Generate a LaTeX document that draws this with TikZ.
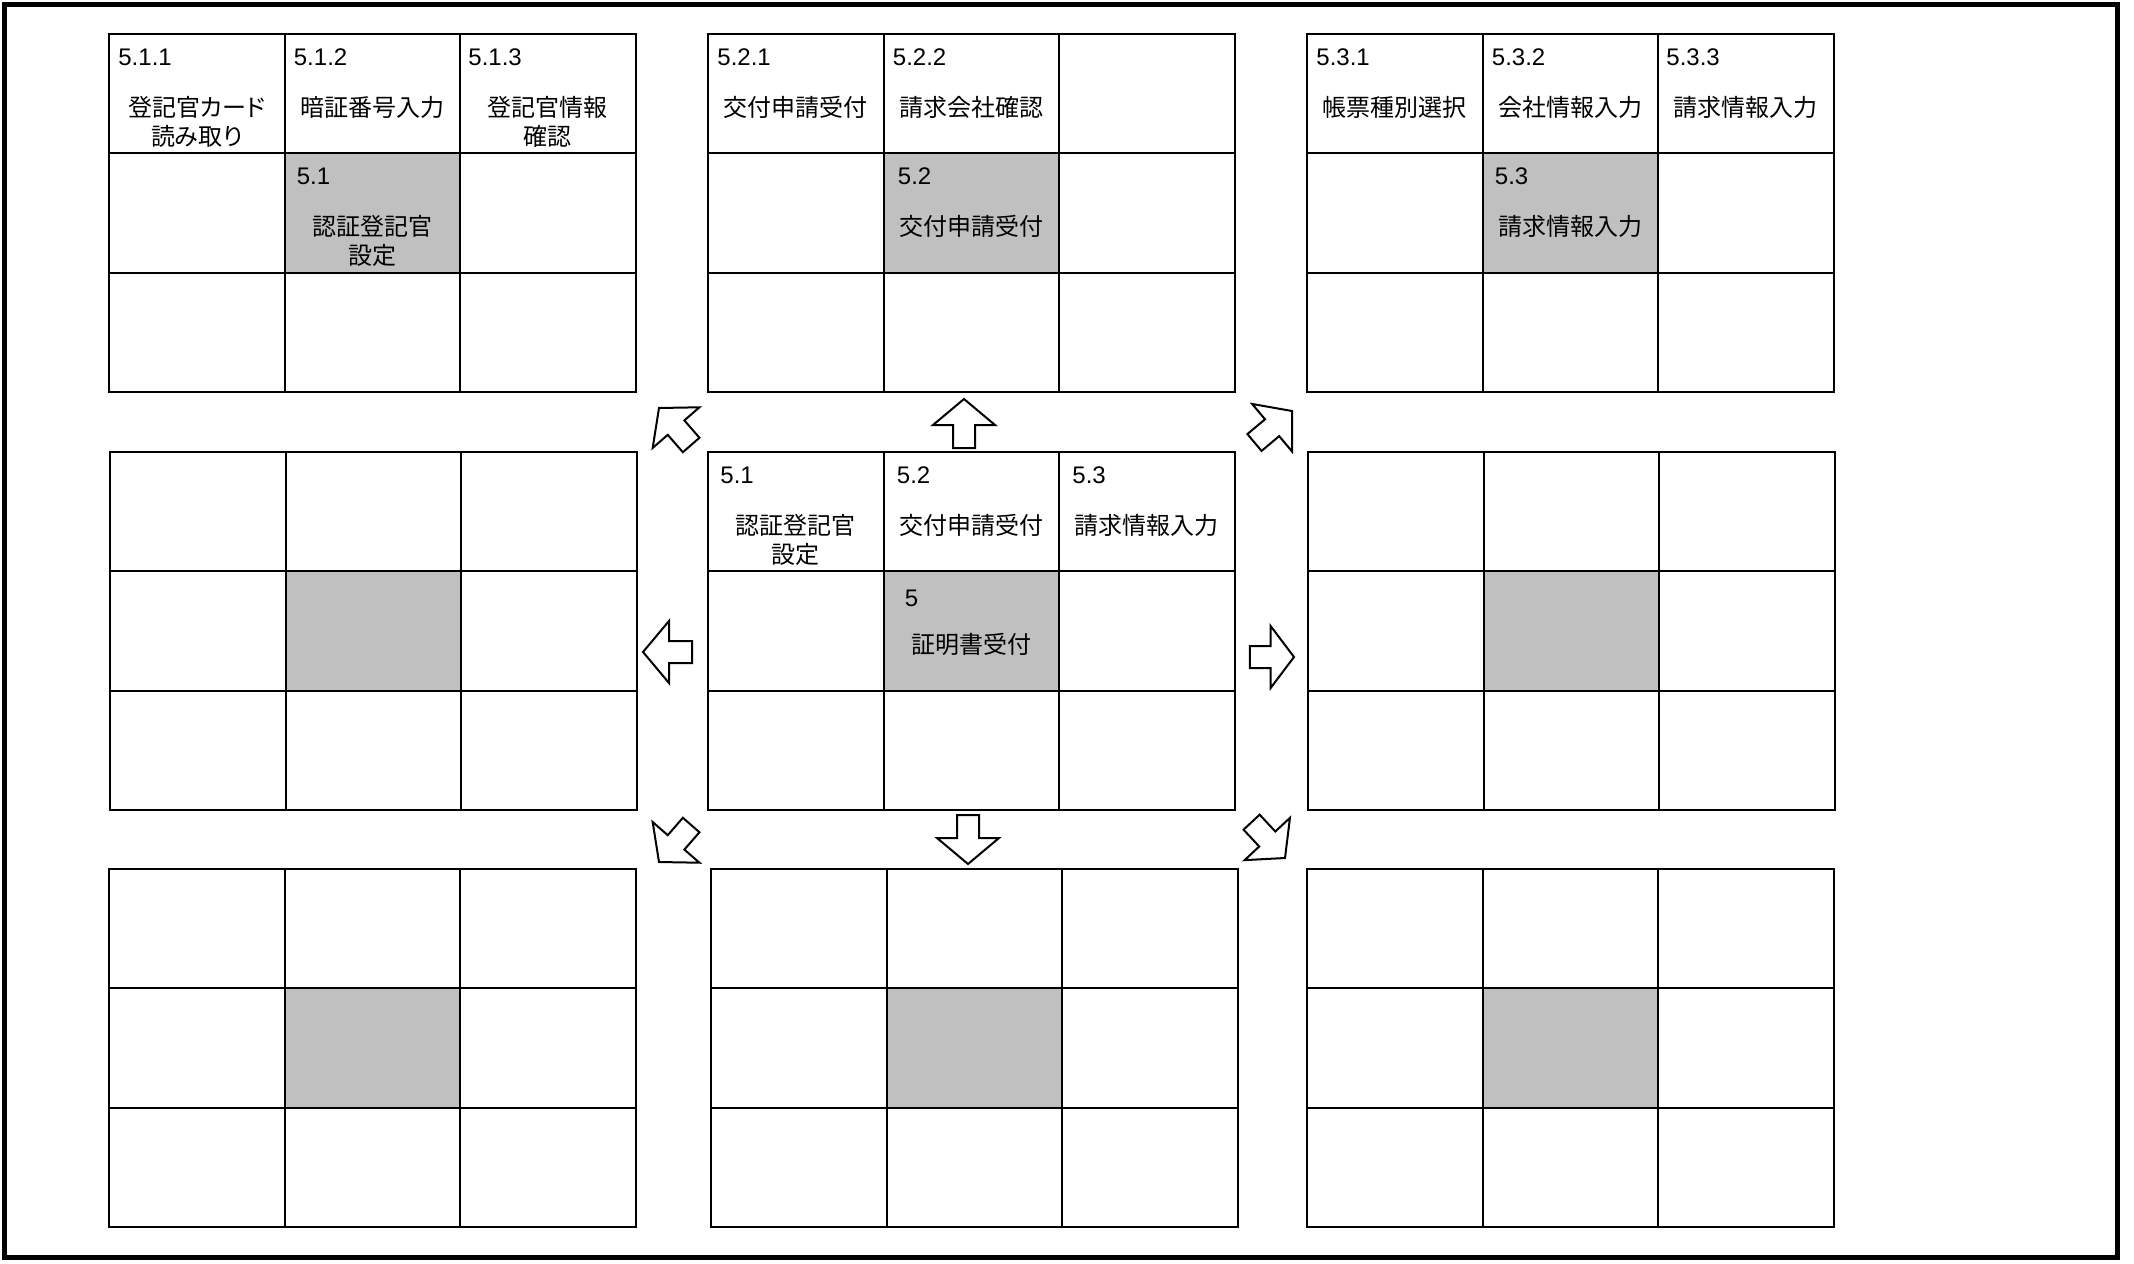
\documentclass[tikz,border=0pt]{standalone}
\usepackage{fontspec}
\setmainfont{Liberation Sans}
\newfontfamily\jp{Noto Sans CJK JP}
\newfontfamily\jpp[RawFeature=+palt]{Noto Sans CJK JP}
\definecolor{cellgray}{RGB}{192,192,192}
\tikzset{
  cellbox/.style={draw=black, line width=1pt, minimum width=87.75pt, minimum height=59.67pt,
    inner sep=0pt, outer sep=0pt, anchor=north west},
  numtxt/.style={font=\fontsize{12}{14}\selectfont, anchor=west, inner sep=0pt},
  lbltxt/.style={font=\jp\fontsize{12}{14.5}\selectfont, align=center, anchor=north, inner sep=0pt},
  blockarrow/.style={draw=black, fill=white, line width=1pt, line join=miter},
  frame/.style={draw=black, line width=2.5pt}
}
% #1 name, #2 x, #3 y (pixels, top-left)
\newcommand\ninegrid[3]{%
  \foreach \r in {0,1,2}{\foreach \c in {0,1,2}{%
    \ifnum\r\c=11 \def\fillc{cellgray}\else\def\fillc{none}\fi
    \node[cellbox, fill=\fillc] (#1-\r\c) at ({#2+\c*175.5},{#3+\r*119.33}) {};
  }}%
}
% #1 cell, #2 number, #3 x offset (pt)
\newcommand\cellnum[3]{\node[numtxt] (#1-n) at ([xshift=#3, yshift=-11.5pt]#1.north west) {#2};}
\newcommand\celllbl[2]{\node[lbltxt] (#1-l) at ([yshift=-30.8pt]#1.north) {#2};}
% #1 angle, #2 tip x, #3 tip y, #4 length scale
\newcommand\barrow[4]{%
  \draw[blockarrow, shift={(#2,#3)}, rotate=#1, xscale=#4] (0,0) -- (-26,31) -- (-26,11) -- (-49,11)
    -- (-49,-11) -- (-26,-11) -- (-26,-31) -- cycle;}
\begin{document}
\begin{tikzpicture}[x=0.5pt, y=-0.5pt]
\useasboundingbox (0,0) rectangle (2134,1263);
\draw[frame] (4.5,5) rectangle (2117.5,1257);

\ninegrid{tl}{109}{34}
\ninegrid{tc}{708}{34}
\ninegrid{tr}{1307}{34}
\ninegrid{ml}{110}{452}
\ninegrid{cc}{708}{452}
\ninegrid{mr}{1308}{452}
\ninegrid{bl}{109}{869}
\ninegrid{bc}{711}{869}
\ninegrid{br}{1307}{869}

% top-left grid
\cellnum{tl-00}{5.1.1}{4.5pt}\celllbl{tl-00}{\jpp 登記官カード\\\jpp 読み取り}
\cellnum{tl-01}{5.1.2}{4.5pt}\celllbl{tl-01}{暗証番号入力}
\cellnum{tl-02}{5.1.3}{4pt}\celllbl{tl-02}{登記官情報\\確認}
\cellnum{tl-11}{5.1}{6pt}\celllbl{tl-11}{認証登記官\\設定}

% top-center grid
\cellnum{tc-00}{5.2.1}{4.5pt}\celllbl{tc-00}{交付申請受付}
\cellnum{tc-01}{5.2.2}{4.5pt}\celllbl{tc-01}{請求会社確認}
\cellnum{tc-11}{5.2}{7pt}\celllbl{tc-11}{交付申請受付}

% top-right grid
\cellnum{tr-00}{5.3.1}{4.5pt}\celllbl{tr-00}{帳票種別選択}
\cellnum{tr-01}{5.3.2}{4.5pt}\celllbl{tr-01}{会社情報入力}
\cellnum{tr-02}{5.3.3}{4pt}\celllbl{tr-02}{請求情報入力}
\cellnum{tr-11}{5.3}{6pt}\celllbl{tr-11}{請求情報入力}

% center grid
\cellnum{cc-00}{5.1}{6pt}\celllbl{cc-00}{認証登記官\\設定}
\cellnum{cc-01}{5.2}{6.5pt}\celllbl{cc-01}{交付申請受付}
\cellnum{cc-02}{5.3}{6.5pt}\celllbl{cc-02}{請求情報入力}
\node[numtxt] (cc-11-n) at ([xshift=10.5pt, yshift=-13.5pt]cc-11.north west) {5};
\celllbl{cc-11}{証明書受付}

% block arrows (angle, tip x, tip y, length scale)
\barrow{90}{964}{399}{1}
\barrow{-90}{968}{864}{1}
\barrow{180}{643}{652}{1}
\barrow{0}{1294}{657}{0.9}
\barrow{131}{659}{408}{1}
\barrow{40}{1292}{411}{1}
\barrow{229}{659}{862}{1}
\barrow{-47}{1285}{858}{1}
\end{tikzpicture}
\end{document}
